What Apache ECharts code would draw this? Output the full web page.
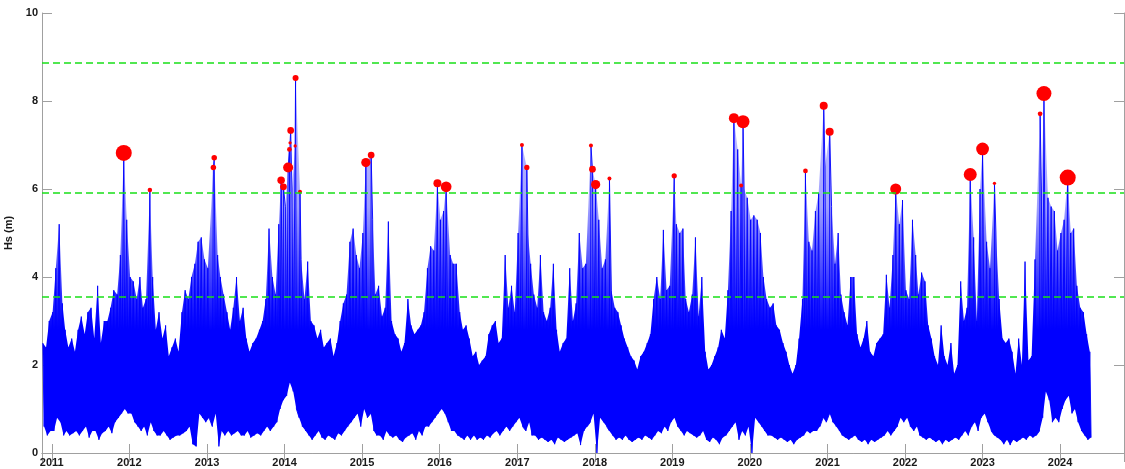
<!DOCTYPE html>
<html>
<head>
<meta charset="utf-8">
<script src="https://cdn.jsdelivr.net/npm/echarts@6/dist/echarts.min.js"></script>
<style>html,body{margin:0;padding:0;background:#fff}#c{width:1125px;height:469px}</style>
</head>
<body>
<div id="c"></div>
<script>
// Half-month envelopes of Hs (m): upper and lower value of each half month (1st-15th, 16th-end)
// 2010 starts at the second half of November
const max2010 = [2.5, 2.4, 3.0];
const min2010 = [0.6, 0.4, 0.5];
const max2011 = [3.2, 4.2, 5.2, 3.4, 2.8, 2.4, 2.6, 2.3, 2.8, 3.1, 2.7, 3.2, 3.3, 2.6, 3.8, 2.5, 3.0, 3.0, 3.3, 3.7, 3.6, 4.5, 6.82, 5.3];
const min2011 = [0.5, 0.8, 0.7, 0.4, 0.5, 0.4, 0.45, 0.5, 0.4, 0.5, 0.6, 0.35, 0.5, 0.5, 0.3, 0.45, 0.5, 0.6, 0.45, 0.7, 0.8, 0.9, 1.0, 0.9];
const max2012 = [4.0, 3.9, 3.5, 4.0, 3.3, 3.5, 5.98, 4.0, 2.8, 3.2, 2.6, 2.9, 2.2, 2.4, 2.6, 2.3, 3.2, 3.7, 3.5, 4.0, 4.3, 4.8, 4.9, 4.4];
const min2012 = [0.9, 0.7, 0.6, 0.5, 0.6, 0.4, 0.7, 0.5, 0.4, 0.4, 0.5, 0.4, 0.3, 0.35, 0.4, 0.4, 0.45, 0.5, 0.6, 0.2, 0.15, 0.9, 0.8, 0.7];
const max2013 = [4.2, 6.49, 6.71, 4.5, 4.0, 3.6, 3.2, 2.8, 3.3, 4.0, 3.0, 3.3, 2.6, 2.3, 2.5, 2.6, 2.8, 3.0, 3.5, 5.1, 4.0, 3.6, 5.2, 6.2];
const min2013 = [0.8, 0.6, 0.9, 0.15, 0.5, 0.4, 0.5, 0.4, 0.45, 0.5, 0.4, 0.4, 0.5, 0.35, 0.4, 0.45, 0.4, 0.5, 0.6, 0.5, 0.6, 0.7, 1.0, 1.2];
const max2014 = [5.6, 7.33, 6.0, 8.52, 5.94, 4.4, 3.5, 4.35, 3.0, 2.9, 2.6, 2.8, 2.4, 2.5, 2.6, 2.2, 2.5, 3.0, 3.4, 3.6, 4.8, 5.1, 4.5, 4.2];
const min2014 = [1.3, 1.6, 1.4, 1.0, 0.8, 0.6, 0.5, 0.4, 0.3, 0.4, 0.5, 0.35, 0.3, 0.4, 0.35, 0.3, 0.45, 0.4, 0.5, 0.6, 0.7, 0.8, 0.9, 0.6];
const max2015 = [5.0, 6.6, 6.77, 5.3, 3.6, 3.8, 3.1, 3.3, 5.26, 3.0, 2.7, 2.6, 2.3, 2.5, 3.5, 2.9, 2.7, 2.8, 2.9, 3.2, 4.2, 4.7, 4.6, 6.14];
const min2015 = [1.0, 0.8, 0.9, 0.5, 0.4, 0.4, 0.3, 0.5, 0.4, 0.35, 0.4, 0.3, 0.25, 0.35, 0.4, 0.45, 0.3, 0.5, 0.4, 0.6, 0.6, 0.7, 0.8, 0.9];
const max2016 = [5.3, 5.5, 6.05, 4.5, 4.3, 4.3, 3.2, 2.8, 2.9, 2.6, 2.2, 2.3, 2.0, 2.1, 2.2, 2.7, 2.9, 3.0, 2.5, 2.6, 4.5, 3.3, 3.8, 3.2];
const min2016 = [1.0, 0.9, 0.7, 0.5, 0.5, 0.4, 0.35, 0.3, 0.4, 0.3, 0.4, 0.3, 0.35, 0.3, 0.4, 0.35, 0.45, 0.5, 0.4, 0.5, 0.6, 0.5, 0.6, 0.7];
const max2017 = [5.0, 7.0, 6.49, 5.0, 4.3, 3.6, 3.3, 4.5, 3.2, 3.0, 3.3, 4.3, 2.8, 2.3, 2.5, 2.6, 4.2, 3.0, 3.4, 5.0, 4.2, 4.3, 6.99, 6.45];
const min2017 = [0.8, 0.6, 0.5, 0.7, 0.4, 0.4, 0.3, 0.35, 0.3, 0.25, 0.3, 0.2, 0.35, 0.3, 0.25, 0.3, 0.35, 0.4, 0.45, 0.18, 0.5, 0.6, 0.7, 0.9];
const max2018 = [6.1, 5.3, 4.2, 4.4, 6.24, 3.7, 3.3, 3.2, 2.9, 2.6, 2.4, 2.2, 2.1, 1.9, 2.2, 2.3, 2.5, 2.7, 3.5, 4.0, 3.5, 5.07, 3.7, 3.8];
const min2018 = [0.0, 0.8, 0.7, 0.6, 0.5, 0.4, 0.3, 0.35, 0.3, 0.4, 0.3, 0.25, 0.3, 0.35, 0.3, 0.4, 0.35, 0.3, 0.4, 0.5, 0.45, 0.6, 0.5, 0.7];
const max2019 = [6.3, 5.2, 5.0, 5.1, 3.5, 3.2, 3.6, 4.9, 3.1, 4.0, 2.3, 1.9, 2.0, 2.2, 2.4, 2.8, 2.6, 3.7, 5.5, 7.61, 6.9, 7.53, 6.0, 5.8];
const min2019 = [0.8, 0.6, 0.5, 0.4, 0.5, 0.45, 0.4, 0.35, 0.4, 0.5, 0.3, 0.25, 0.35, 0.3, 0.2, 0.35, 0.4, 0.5, 0.6, 0.7, 0.3, 0.5, 0.4, 0.6];
const max2020 = [5.3, 5.4, 5.3, 5.0, 4.0, 3.5, 3.3, 3.4, 2.9, 2.8, 2.5, 2.3, 2.0, 1.8, 2.0, 2.6, 3.5, 6.41, 4.8, 4.6, 5.5, 5.9, 7.89, 6.5];
const min2020 = [0.0, 0.8, 0.7, 0.6, 0.5, 0.4, 0.4, 0.35, 0.3, 0.35, 0.3, 0.25, 0.3, 0.2, 0.3, 0.35, 0.4, 0.5, 0.45, 0.5, 0.5, 0.6, 0.8, 0.7];
const max2021 = [7.3, 5.6, 4.3, 5.0, 3.6, 3.2, 2.9, 4.0, 4.0, 2.7, 2.4, 2.6, 3.0, 2.3, 2.2, 2.5, 2.6, 2.7, 4.05, 3.3, 4.5, 6.0, 5.2, 5.75];
const min2021 = [0.9, 0.7, 0.6, 0.5, 0.4, 0.35, 0.3, 0.35, 0.4, 0.3, 0.25, 0.3, 0.2, 0.3, 0.25, 0.3, 0.35, 0.4, 0.5, 0.4, 0.5, 0.6, 0.8, 0.7];
const max2022 = [3.7, 3.5, 5.3, 4.5, 3.6, 4.1, 3.9, 2.9, 2.6, 2.2, 2.0, 2.9, 2.2, 2.0, 2.5, 1.8, 2.0, 3.9, 3.0, 3.3, 6.33, 4.9, 3.0, 6.0];
const min2022 = [0.8, 0.6, 0.5, 0.6, 0.4, 0.35, 0.3, 0.35, 0.3, 0.25, 0.3, 0.2, 0.3, 0.25, 0.3, 0.35, 0.3, 0.4, 0.5, 0.4, 0.6, 0.7, 0.5, 0.8];
const max2023 = [6.91, 4.8, 4.2, 6.13, 5.0, 3.5, 2.6, 2.5, 2.6, 2.3, 1.8, 2.6, 2.0, 4.35, 2.1, 2.2, 4.4, 7.71, 6.0, 8.17, 5.8, 5.6, 5.5, 4.6];
const min2023 = [0.9, 0.7, 0.5, 0.4, 0.35, 0.3, 0.2, 0.3, 0.18, 0.3, 0.25, 0.3, 0.35, 0.3, 0.4, 0.35, 0.4, 0.5, 0.8, 1.4, 1.2, 0.7, 0.8, 0.7];
const max2024 = [5.0, 5.3, 6.26, 5.0, 5.1, 3.8, 3.3, 3.2, 2.7, 2.3];
const min2024 = [1.0, 1.2, 1.3, 0.9, 1.0, 0.7, 0.5, 0.4, 0.3, 0.35];

// Storm peaks (red circles)
const peakDates = ['2011-12-06','2012-04-07','2013-01-31','2013-02-04','2013-12-16','2013-12-27','2014-01-18','2014-01-24','2014-01-27','2014-01-30','2014-02-20','2014-02-22','2014-03-15','2015-01-19','2015-02-13','2015-12-22','2016-02-01','2017-01-23','2017-02-15','2017-12-14','2017-12-21','2018-01-05','2018-03-11','2019-01-10','2019-10-18','2019-11-21','2019-11-30','2020-09-19','2020-12-14','2021-01-11','2021-11-18','2022-11-04','2023-01-01','2023-02-26','2023-09-29','2023-10-17','2024-02-06'];
const peakValues = [6.82,5.98,6.49,6.71,6.2,6.05,6.49,6.9,7.05,7.33,6.98,8.52,5.94,6.6,6.77,6.13,6.05,7.0,6.49,6.99,6.45,6.1,6.24,6.3,7.61,6.08,7.53,6.41,7.89,7.3,6.0,6.33,6.91,6.13,7.71,8.17,6.26];
const peakDuration = [52,6,10,10,18,15,28,7,1,15,1,12,4,25,15,20,31,4,9,4,15,25,4,9,28,4,40,7,20,20,32,40,39,1,7,48,52];

// Threshold levels (green dashed lines)
const thresholds = [3.545, 5.91, 8.86];

const yearBlocks = [
  [2010, 21, max2010, min2010], [2011, 0, max2011, min2011], [2012, 0, max2012, min2012],
  [2013, 0, max2013, min2013], [2014, 0, max2014, min2014], [2015, 0, max2015, min2015],
  [2016, 0, max2016, min2016], [2017, 0, max2017, min2017], [2018, 0, max2018, min2018],
  [2019, 0, max2019, min2019], [2020, 0, max2020, min2020], [2021, 0, max2021, min2021],
  [2022, 0, max2022, min2022], [2023, 0, max2023, min2023], [2024, 0, max2024, min2024]
];

const peakTimes = peakDates.map(d => Date.parse(d + 'T00:00:00Z'));
const upper = [], lower = [], zig = [];
yearBlocks.forEach(([yr, k0, mx, mn]) => {
  mx.forEach((v, i) => {
    const k = k0 + i;
    const m = Math.floor(k / 2), d0 = (k % 2) ? 16 : 1;
    const start = Date.UTC(yr, m, d0);
    const end = (k % 2) ? Date.UTC(yr, m + 1, 1) : Date.UTC(yr, m, 16);
    const hasPeak = peakTimes.some(t => t >= start && t < end);
    if (!hasPeak) { upper.push([Date.UTC(yr, m, d0 + 4), v]); zig.push([Date.UTC(yr, m, d0 + 4), v]); }
    lower.push([Date.UTC(yr, m, d0 + 10), mn[i]]);
    zig.push([Date.UTC(yr, m, d0 + 10), mn[i]]);
  });
});
peakTimes.forEach((t, i) => { upper.push([t, peakValues[i]]); zig.push([t, peakValues[i]]); });
upper.sort((a, b) => a[0] - b[0]);
zig.sort((a, b) => a[0] - b[0]);

const peaks = peakTimes.map((t, i) => [t, peakValues[i], peakDuration[i]]);

const axisGray = '#a0a0a0';
const txt = '#1a1a1a';
const font = 'Liberation Sans, Arial, sans-serif';
const YEAR = 365 * 86400000;

function renderBand(params, api) {
  if (params.dataIndex !== 0) return null;
  const pts = upper.map(p => api.coord(p)).concat(lower.slice().reverse().map(p => api.coord(p)));
  const t0 = upper[0][0];
  const yTop = api.coord([t0, 8.5])[1];
  const yBot = api.coord([t0, 0])[1];
  const grad = new echarts.graphic.LinearGradient(0, yBot, 0, yTop, [
    {offset: 0, color: 'rgba(0,0,255,1)'},
    {offset: 2.8 / 8.5, color: 'rgba(0,0,255,1)'},
    {offset: 4.2 / 8.5, color: 'rgba(0,0,255,0.7)'},
    {offset: 5.6 / 8.5, color: 'rgba(0,0,255,0.38)'},
    {offset: 1, color: 'rgba(0,0,255,0.18)'}
  ], true);
  return {
    type: 'polygon',
    shape: {points: pts},
    style: {fill: grad, stroke: null, lineWidth: 0}
  };
}

const chart = echarts.init(document.getElementById('c'), null, {renderer: 'canvas'});
chart.setOption({
  animation: false,
  useUTC: true,
  backgroundColor: '#ffffff',
  grid: {left: 42, right: 1, top: 13, bottom: 16, containLabel: false, outerBoundsMode: 'none'},
  xAxis: [{
    type: 'time', min: Date.UTC(2010, 10, 16), max: Date.UTC(2024, 9, 28),
    minInterval: YEAR, maxInterval: YEAR + 86400000,
    axisLine: {show: true, lineStyle: {color: axisGray, width: 1}},
    axisTick: {show: true, inside: true, length: 9, lineStyle: {color: axisGray}},
    axisLabel: {formatter: '{yyyy}', color: txt, fontWeight: 'bold', fontSize: 11, fontFamily: font, margin: 4, showMinLabel: false, showMaxLabel: false},
    splitLine: {show: false}
  }, {
    type: 'time', position: 'top', min: Date.UTC(2010, 10, 16), max: Date.UTC(2024, 9, 28),
    minInterval: YEAR, maxInterval: YEAR + 86400000,
    axisLine: {show: true, lineStyle: {color: axisGray, width: 1}},
    axisTick: {show: true, inside: true, length: 9, lineStyle: {color: axisGray}},
    axisLabel: {show: false},
    splitLine: {show: false}
  }],
  yAxis: [{
    type: 'value', min: 0, max: 10, interval: 2,
    name: 'Hs (m)', nameLocation: 'middle', nameGap: 23, nameRotate: 90,
    nameTextStyle: {color: txt, fontWeight: 'bold', fontSize: 11, fontFamily: font},
    axisLine: {show: true, lineStyle: {color: axisGray, width: 1}},
    axisTick: {show: true, inside: true, length: 10, lineStyle: {color: axisGray}},
    axisLabel: {color: txt, fontWeight: 'bold', fontSize: 11, fontFamily: font, margin: 4},
    splitLine: {show: false}
  }, {
    type: 'value', position: 'right', min: 0, max: 10, interval: 2,
    axisLine: {show: true, lineStyle: {color: axisGray, width: 1}},
    axisTick: {show: true, inside: true, length: 10, lineStyle: {color: axisGray}},
    axisLabel: {show: false},
    splitLine: {show: false}
  }],
  series: [{
    name: 'HsBand', type: 'custom', xAxisIndex: 0, yAxisIndex: 0,
    data: [upper[0]], renderItem: renderBand, clip: true, silent: true, z: 2
  }, {
    name: 'Hs', type: 'line', data: zig, xAxisIndex: 0, yAxisIndex: 0,
    showSymbol: false, symbol: 'none', sampling: null,
    lineStyle: {color: '#0000ff', width: 0.9},
    z: 2
  }, {
    name: 'thresholds', type: 'line', data: [], xAxisIndex: 0, yAxisIndex: 0,
    markLine: {
      silent: true, symbol: 'none', label: {show: false}, animation: false,
      lineStyle: {color: '#18e018', type: [7, 4], width: 1.5},
      data: thresholds.map(v => ({yAxis: v}))
    },
    z: 3
  }, {
    name: 'peaks', type: 'scatter', data: peaks, xAxisIndex: 0, yAxisIndex: 0,
    symbol: 'circle',
    symbolSize: d => 3 + d[2] / 4,
    itemStyle: {color: '#ff0000', opacity: 1},
    z: 4
  }]
});
</script>
</body>
</html>
